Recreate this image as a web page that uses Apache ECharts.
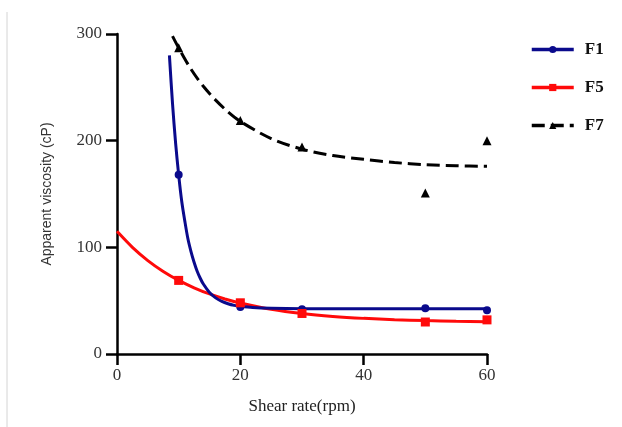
<!DOCTYPE html>
<html>
<head>
<meta charset="utf-8">
<script src="https://cdn.jsdelivr.net/npm/echarts@6/dist/echarts.min.js"></script>
<style>html,body{margin:0;padding:0;background:#fff;}#c{width:622px;height:427px;}</style>
</head>
<body>
<div id="c"></div>
<script>
// Tick labels
var xTicks = [0, 20, 40, 60];
var yTicks = [0, 100, 200, 300];
// Measured points
var shearRates = [10, 20, 30, 50, 60];
var f1Points = [168, 44, 42, 43, 41];
var f5Points = [69, 48, 38, 30, 32];
var f7Points = [287, 219, 194, 151, 200];
// Fitted curves
var f1CurveX = [8.5, 9, 9.5, 10, 10.5, 11, 11.5, 12, 12.5, 13, 13.5, 14, 15, 16, 17, 18, 19, 20, 22, 25, 30, 40, 50, 60];
var f1CurveY = [280, 235, 198, 168, 143, 124.5, 108, 96, 86, 77.6, 71, 65.6, 57.7, 52.6, 49.3, 47.1, 45.6, 44.7, 43.5, 42.8, 42.5, 42.5, 42.5, 42.5];
var f5CurveX = [0, 2.5, 5, 7.5, 10, 12.5, 15, 17.5, 20, 25, 30, 35, 40, 45, 50, 55, 60];
var f5CurveY = [115, 100, 87.6, 77.4, 69, 62.1, 56.3, 51.6, 47.8, 41.9, 37.9, 35.2, 33.4, 32.2, 31.3, 30.7, 30.3];
var f7CurveX = [9, 10, 12, 14, 16, 18, 20, 25, 30, 35, 40, 45, 50, 55, 60];
var f7CurveY = [298, 287, 267, 251, 238, 227, 218, 202, 192, 186, 182.5, 179.5, 177.5, 176.5, 176];

function pairs(xs, ys) { return xs.map(function (x, i) { return [x, ys[i]]; }); }

var navy = '#0a0a8c', red = '#ff0a0a', black = '#000000';
var serif = '"Liberation Serif", "Times New Roman", serif';

var chart = echarts.init(document.getElementById('c'), null, {renderer: 'canvas'});
chart.setOption({
  animation: false,
  backgroundColor: '#ffffff',
  grid: {left: 117, right: 135, top: 34, bottom: 73, containLabel: false},
  graphic: [{type: 'line', shape: {x1: 7, y1: 12, x2: 7, y2: 427}, style: {stroke: '#d4d4d4', lineWidth: 1}}],
  legend: {
    orient: 'vertical', left: 525, top: 36, itemWidth: 42, itemHeight: 9, itemGap: 21,
    lineStyle: {width: 3.5},
    textStyle: {fontFamily: serif, fontWeight: 'bold', fontSize: 17, color: '#111', padding: [0, 0, 0, 6]},
    data: ['F1', 'F5', 'F7']
  },
  xAxis: {
    type: 'value', min: xTicks[0], max: xTicks[xTicks.length - 1], interval: 20,
    name: 'Shear rate(rpm)', nameLocation: 'middle', nameGap: 44,
    nameTextStyle: {fontFamily: serif, fontSize: 17, color: '#222'},
    axisLine: {lineStyle: {color: '#000', width: 2.5}},
    axisTick: {length: 11, lineStyle: {color: '#000', width: 2.5}},
    axisLabel: {fontFamily: serif, fontSize: 17, color: '#333', margin: 13},
    splitLine: {show: false}
  },
  yAxis: {
    type: 'value', min: yTicks[0], max: yTicks[yTicks.length - 1], interval: 100,
    name: 'Apparent viscosity (cP)', nameLocation: 'middle', nameGap: 63,
    nameTextStyle: {fontFamily: '"Liberation Sans", Arial, sans-serif', fontSize: 14, color: '#333'},
    axisLine: {lineStyle: {color: '#000', width: 2.5}},
    axisTick: {length: 11, lineStyle: {color: '#000', width: 2.5}},
    axisLabel: {fontFamily: serif, fontSize: 17, color: '#333', margin: 15},
    splitLine: {show: false}
  },
  series: [
    {name: 'F1', type: 'line', data: pairs(f1CurveX, f1CurveY), smooth: 0.3, showSymbol: false,
     symbol: 'circle', symbolSize: 8, lineStyle: {color: navy, width: 3}, itemStyle: {color: navy}, z: 3},
    {name: 'F5', type: 'line', data: pairs(f5CurveX, f5CurveY), smooth: 0.3, showSymbol: false,
     symbol: 'rect', symbolSize: 9, lineStyle: {color: red, width: 3}, itemStyle: {color: red}, z: 2},
    {name: 'F7', type: 'line', data: pairs(f7CurveX, f7CurveY), smooth: 0.3, showSymbol: false,
     symbol: 'triangle', symbolSize: 9, lineStyle: {color: black, width: 3, type: [13, 6]}, itemStyle: {color: black}, z: 2},
    {name: 'F1', type: 'scatter', data: pairs(shearRates, f1Points), symbol: 'circle', symbolSize: 8, itemStyle: {color: navy, opacity: 1}, z: 4},
    {name: 'F5', type: 'scatter', data: pairs(shearRates, f5Points), symbol: 'rect', symbolSize: 9, itemStyle: {color: red, opacity: 1}, z: 4},
    {name: 'F7', type: 'scatter', data: pairs(shearRates, f7Points), symbol: 'triangle', symbolSize: 9, itemStyle: {color: black, opacity: 1}, z: 4}
  ]
});
</script>
</body>
</html>
